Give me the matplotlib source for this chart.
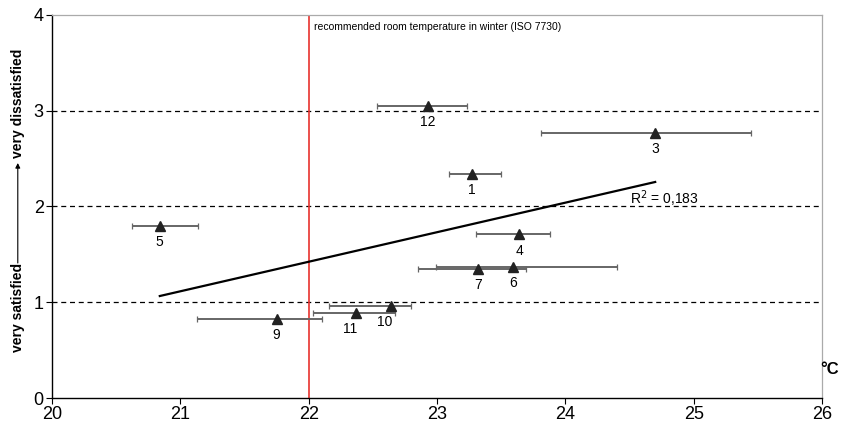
import numpy as np
import matplotlib.pyplot as plt

plt.rcParams['font.family'] = ['Liberation Sans', 'DejaVu Sans']

# Messpunkte: Temperatur (°C), Bewertung, Fehlerbalken (min/max Temperatur)
labels = ['1', '3', '4', '5', '6', '7', '9', '10', '11', '12']
temp = [23.27, 24.70, 23.64, 20.84, 23.59, 23.32, 21.75, 22.64, 22.37, 22.93]
rating = [2.34, 2.77, 1.71, 1.80, 1.37, 1.35, 0.83, 0.96, 0.89, 3.05]
t_min = [23.09, 23.81, 23.30, 20.62, 22.99, 22.85, 21.13, 22.16, 22.03, 22.53]
t_max = [23.50, 25.45, 23.88, 21.14, 24.40, 23.69, 22.10, 22.80, 22.67, 23.23]

# Regressionsgerade
trend_x = [20.84, 24.70]
trend_y = [1.065, 2.256]
r2_text = 'R$^2$ = 0,183'

x_ticks = [20, 21, 22, 23, 24, 25, 26]
y_ticks = [0, 1, 2, 3, 4]
iso_temp = 22

fig = plt.figure(figsize=(8.47, 4.32), dpi=100)
ax = fig.add_axes([0.0614, 0.0787, 0.9091, 0.8866])

for yy in [1, 2, 3]:
    ax.axhline(yy, color='black', lw=0.9, ls=(0, (4, 3)), zorder=1)

ax.axvline(iso_temp, color='#e8322e', lw=1.2, zorder=2)
ax.text(iso_temp + 0.04, 3.87, 'recommended room temperature in winter (ISO 7730)',
        fontsize=7.5, va='center', ha='left')

temp_a = np.array(temp)
xerr = [temp_a - np.array(t_min), np.array(t_max) - temp_a]
ax.errorbar(temp, rating, xerr=xerr, fmt='none', ecolor='#666666',
            elinewidth=1.4, capsize=2.5, capthick=0.9, zorder=3)
ax.plot(temp, rating, ls='none', marker='^', ms=7, color='#222222', zorder=4)

offsets = {'11': -0.05, '10': -0.05}
for lab, xx, yy in zip(labels, temp, rating):
    ax.text(xx + offsets.get(lab, 0), yy - 0.17, lab, fontsize=10,
            ha='center', va='center')

ax.plot(trend_x, trend_y, color='black', lw=1.6, zorder=5)
ax.text(24.5, 2.08, r2_text, fontsize=10, ha='left', va='center')

ax.set_xlim(20, 26)
ax.set_ylim(0, 4)
ax.set_xticks(x_ticks)
ax.set_yticks(y_ticks)
ax.tick_params(labelsize=13, length=4, width=0.8, pad=2)

for s in ['top', 'right']:
    ax.spines[s].set_color('#aaaaaa')
    ax.spines[s].set_linewidth(0.9)
for s in ['left', 'bottom']:
    ax.spines[s].set_linewidth(1.0)

fig.text(0.980, 0.145, '°C', fontsize=12, fontweight='bold', ha='center', va='center')

# y-Achsenbeschriftung mit Pfeil
fig.text(0.021, 1 - 307 / 432, 'very satisfied', rotation=90, fontsize=10,
         fontweight='bold', ha='center', va='center')
fig.text(0.021, 1 - 103 / 432, 'very dissatisfied', rotation=90, fontsize=10,
         fontweight='bold', ha='center', va='center')
ax.annotate('', xy=(0.021, 1 - 163 / 432), xytext=(0.021, 1 - 263 / 432),
            xycoords='figure fraction', textcoords='figure fraction',
            arrowprops=dict(arrowstyle='-|>', color='black', lw=0.8,
                            mutation_scale=7, shrinkA=0, shrinkB=0))

fig.savefig('out.png', dpi=100)
